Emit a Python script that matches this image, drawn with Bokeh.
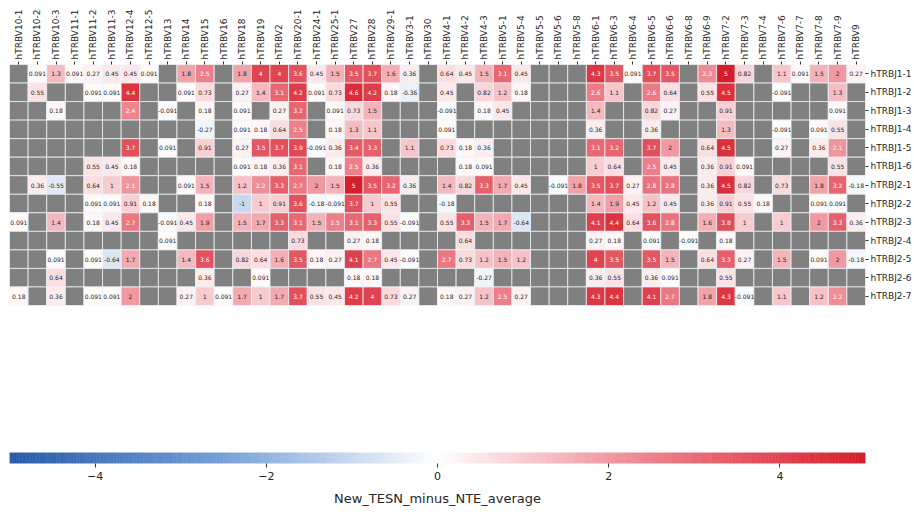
import math
from bokeh.plotting import figure
from bokeh.models import ColumnDataSource, LinearColorMapper, FactorRange, Range1d, FixedTicker
from bokeh.transform import transform
from bokeh.layouts import column
from bokeh.embed import file_html
from bokeh.resources import INLINE
from bokeh.core.properties import value

N = float("nan")

v_genes = ["hTRBV10-1", "hTRBV10-2", "hTRBV10-3", "hTRBV11-1", "hTRBV11-2", "hTRBV11-3",
           "hTRBV12-4", "hTRBV12-5", "hTRBV13", "hTRBV14", "hTRBV15", "hTRBV16", "hTRBV18",
           "hTRBV19", "hTRBV2", "hTRBV20-1", "hTRBV24-1", "hTRBV25-1", "hTRBV27", "hTRBV28",
           "hTRBV29-1", "hTRBV3-1", "hTRBV30", "hTRBV4-1", "hTRBV4-2", "hTRBV4-3", "hTRBV5-1",
           "hTRBV5-4", "hTRBV5-5", "hTRBV5-6", "hTRBV5-8", "hTRBV6-1", "hTRBV6-3", "hTRBV6-4",
           "hTRBV6-5", "hTRBV6-6", "hTRBV6-8", "hTRBV6-9", "hTRBV7-2", "hTRBV7-3", "hTRBV7-4",
           "hTRBV7-6", "hTRBV7-7", "hTRBV7-8", "hTRBV7-9", "hTRBV9"]

j_genes = ["hTRBJ1-1", "hTRBJ1-2", "hTRBJ1-3", "hTRBJ1-4", "hTRBJ1-5", "hTRBJ1-6",
           "hTRBJ2-1", "hTRBJ2-2", "hTRBJ2-3", "hTRBJ2-4", "hTRBJ2-5", "hTRBJ2-6", "hTRBJ2-7"]

r_J1_1 = [N, 0.091, 1.3, 0.091, 0.27, 0.45, 0.45, 0.091, N, 1.8,
          2.5, N, 1.8, 4, 4, 3.6, 0.45, 1.5, 3.5, 3.7,
          1.6, 0.36, N, 0.64, 0.45, 1.5, 3.1, 0.45, N, N,
          N, 4.3, 3.5, 0.091, 3.7, 3.5, N, 2.3, 5, 0.82,
          N, 1.1, 0.091, 1.5, 2, 0.27]
r_J1_2 = [N, 0.55, N, N, 0.091, 0.091, 4.4, N, N, 0.091,
          0.73, N, 0.27, 1.4, 3.1, 4.2, 0.091, 0.73, 4.6, 4.2,
          0.18, -0.36, N, 0.45, N, 0.82, 1.2, 0.18, N, N,
          N, 2.6, 1.1, N, 2.6, 0.64, N, 0.55, 4.5, N,
          N, -0.091, N, N, 1.3, N]
r_J1_3 = [N, N, 0.18, N, N, N, 2.4, N, -0.091, N,
          0.18, N, 0.091, N, 0.27, 3.2, N, 0.091, 0.73, 1.5,
          N, N, N, -0.091, N, 0.18, 0.45, N, N, N,
          N, 1.4, N, N, 0.82, 0.27, N, N, 0.91, N,
          N, N, N, N, 0.091, N]
r_J1_4 = [N, N, N, N, N, N, N, N, N, N,
          -0.27, N, 0.091, 0.18, 0.64, 2.5, N, 0.18, 1.3, 1.1,
          N, N, N, 0.091, N, N, N, N, N, N,
          N, 0.36, N, N, 0.36, N, N, N, 1.3, N,
          N, -0.091, N, 0.091, 0.55, N]
r_J1_5 = [N, N, N, N, N, N, 3.7, N, 0.091, N,
          0.91, N, 0.27, 3.5, 3.7, 3.9, -0.091, 0.36, 3.4, 3.3,
          N, 1.1, N, 0.73, 0.18, 0.36, N, N, N, N,
          N, 3.1, 3.2, N, 3.7, 2, N, 0.64, 4.5, N,
          N, 0.27, N, 0.36, 2.1, N]
r_J1_6 = [N, N, N, N, 0.55, 0.45, 0.18, N, N, N,
          N, N, 0.091, 0.18, 0.36, 3.1, N, 0.18, 2.5, 0.36,
          N, N, N, N, 0.18, 0.091, N, N, N, N,
          N, 1, 0.64, N, 2.5, 0.45, N, 0.36, 0.91, 0.091,
          N, N, N, N, 0.55, N]
r_J2_1 = [N, 0.36, -0.55, N, 0.64, 1, 2.1, N, N, 0.091,
          1.5, N, 1.2, 2.2, 3.3, 2.7, 2, 1.5, 5, 3.5,
          3.2, 0.36, N, 1.4, 0.82, 3.3, 1.7, 0.45, N, -0.091,
          1.8, 3.5, 3.7, 0.27, 2.8, 2.8, N, 0.36, 4.5, 0.82,
          N, 0.73, N, 1.8, 3.2, -0.18]
r_J2_2 = [N, N, N, N, 0.091, 0.091, 0.91, 0.18, N, N,
          0.18, N, -1, 1, 0.91, 3.6, -0.18, -0.091, 3.7, 1,
          0.55, N, N, -0.18, N, N, N, N, N, N,
          N, 1.4, 1.9, 0.45, 1.2, 0.45, N, 0.36, 0.91, 0.55,
          0.18, N, N, 0.091, 0.091, N]
r_J2_3 = [0.091, N, 1.4, N, 0.18, 0.45, 2.7, N, -0.091, 0.45,
          1.9, N, 1.5, 1.7, 3.3, 3.1, 1.5, 2.5, 3.1, 3.3,
          0.55, -0.091, N, 0.55, 3.3, 1.5, 1.7, -0.64, N, N,
          N, 4.1, 4.4, 0.64, 3.6, 2.8, N, 1.6, 3.8, 1,
          N, 1, N, 2, 3.3, 0.36]
r_J2_4 = [N, N, N, N, N, N, N, N, 0.091, N,
          N, N, N, N, N, 0.73, N, N, 0.27, 0.18,
          N, N, N, N, 0.64, N, N, N, N, N,
          N, 0.27, 0.18, N, 0.091, N, -0.091, N, 0.18, N,
          N, N, N, N, N, N]
r_J2_5 = [N, N, 0.091, N, 0.091, -0.64, 1.7, N, N, 1.4,
          3.6, N, 0.82, 0.64, 1.6, 3.5, 0.18, 0.27, 4.1, 2.7,
          0.45, -0.091, N, 2.7, 0.73, 1.2, 1.5, 1.2, N, N,
          N, 4, 3.5, N, 3.5, 1.5, N, 0.64, 3.3, 0.27,
          N, 1.5, N, 0.091, 2, -0.18]
r_J2_6 = [N, N, 0.64, N, N, N, N, N, N, N,
          0.36, N, N, 0.091, N, N, N, N, 0.18, 0.18,
          N, N, N, N, N, -0.27, N, N, N, N,
          N, 0.36, 0.55, N, 0.36, 0.091, N, N, 0.55, N,
          N, N, N, N, N, N]
r_J2_7 = [0.18, N, 0.36, N, 0.091, 0.091, 2, N, N, 0.27,
          1, 0.091, 1.7, 1, 1.7, 3.7, 0.55, 0.45, 4.2, 4,
          0.73, 0.27, N, 0.18, 0.27, 1.2, 2.5, 0.27, N, N,
          N, 4.3, 4.4, N, 4.1, 2.7, N, 1.8, 4.3, -0.091,
          N, 1.1, N, 1.2, 2.2, N]

matrix = [r_J1_1, r_J1_2, r_J1_3, r_J1_4, r_J1_5, r_J1_6,
          r_J2_1, r_J2_2, r_J2_3, r_J2_4, r_J2_5, r_J2_6, r_J2_7]

cbar_ticks = [-4, -2, 0, 2, 4]
cbar_title = "New_TESN_minus_NTE_average"
VMIN, VMAX = -5.0, 5.0

# ---- colormap (blue - white - red) ----
anchors = [(-5.0, (36, 90, 168)), (-2.5, (118, 160, 214)), (0.0, (255, 255, 255)),
           (2.5, (236, 128, 138)), (5.0, (214, 28, 42))]


def color_at(v):
    v = max(VMIN, min(VMAX, v))
    for (a, ca), (b, cb_) in zip(anchors[:-1], anchors[1:]):
        if a <= v <= b:
            t = (v - a) / (b - a)
            return tuple(int(round(ca[i] + (cb_[i] - ca[i]) * t)) for i in range(3))
    return anchors[-1][1]


n_col = 256
palette = []
for i in range(n_col):
    v = VMIN + (VMAX - VMIN) * (i + 0.5) / n_col
    palette.append("#%02x%02x%02x" % color_at(v))

mapper = LinearColorMapper(palette=palette, low=VMIN, high=VMAX, nan_color="#808080")


def rel_lum(rgb):
    out = []
    for c in rgb:
        c = c / 255.0
        out.append(c / 12.92 if c <= 0.03928 else ((c + 0.055) / 1.055) ** 2.4)
    return 0.2126 * out[0] + 0.7152 * out[1] + 0.0722 * out[2]


xs, ys, vals, labels, tcols = [], [], [], [], []
for j, row in zip(j_genes, matrix):
    for vg, v in zip(v_genes, row):
        xs.append(vg)
        ys.append(j)
        vals.append(v)
        if isinstance(v, float) and math.isnan(v):
            labels.append("")
            tcols.append("#262626")
        else:
            labels.append(format(v, ".2g"))
            tcols.append("#262626" if rel_lum(color_at(v)) > 0.43 else "#ffffff")

src = ColumnDataSource(dict(v=xs, j=ys, val=vals, label=labels, tc=tcols))

FONT = "DejaVu Sans"

p = figure(width=914, height=320,
           x_range=FactorRange(*v_genes), y_range=FactorRange(*reversed(j_genes)),
           x_axis_location="above", y_axis_location="right",
           min_border_left=9, min_border_right=49, min_border_top=64, min_border_bottom=15,
           toolbar_location=None, output_backend="svg", tools="")
p.outline_line_color = None
p.grid.grid_line_color = None
p.background_fill_color = "white"

p.rect(x="v", y="j", width=1, height=1, source=src,
       fill_color=transform("val", mapper), line_color="#eef2f6", line_width=0.8)
p.text(x="v", y="j", text="label", source=src, text_color="tc",
       text_font=value(FONT), text_font_size="6px",
       text_align="center", text_baseline="middle")

for ax in (p.xaxis[0], p.yaxis[0]):
    ax.axis_line_color = None
    ax.major_tick_line_color = "#333333"
    ax.major_tick_out = 3
    ax.major_tick_in = 0
    ax.minor_tick_line_color = None
    ax.major_label_standoff = 2
    ax.major_label_text_font = FONT
    ax.major_label_text_font_size = "9px"
    ax.major_label_text_color = "#262626"
p.xaxis.major_label_orientation = "vertical"

# ---- colorbar ----
edges = [VMIN + (VMAX - VMIN) * i / n_col for i in range(n_col + 1)]
cb_src = ColumnDataSource(dict(left=edges[:-1], right=edges[1:], c=palette))

cb = figure(width=914, height=195, x_range=Range1d(VMIN, VMAX), y_range=Range1d(0, 1),
            min_border_left=9, min_border_right=49, min_border_top=132, min_border_bottom=52,
            toolbar_location=None, output_backend="svg", tools="")
cb.quad(left="left", right="right", bottom=0, top=1, source=cb_src,
        fill_color="c", line_color="c", line_width=0.5)
cb.outline_line_color = None
cb.grid.grid_line_color = None
cb.yaxis.visible = False
cb.xaxis.ticker = FixedTicker(ticks=cbar_ticks)
cb.xaxis.major_label_overrides = {t: ("\u2212" + str(abs(t)) if t < 0 else str(t)) for t in cbar_ticks}
cb.xaxis.axis_line_color = None
cb.xaxis.major_tick_line_color = "#333333"
cb.xaxis.major_tick_out = 4
cb.xaxis.major_tick_in = 0
cb.xaxis.minor_tick_line_color = None
cb.xaxis.major_label_standoff = 4
cb.xaxis.major_label_text_font = FONT
cb.xaxis.major_label_text_font_size = "11px"
cb.xaxis.major_label_text_color = "#262626"
cb.xaxis.axis_label = cbar_title
cb.xaxis.axis_label_text_font = FONT
cb.xaxis.axis_label_text_font_size = "13px"
cb.xaxis.axis_label_text_font_style = "normal"
cb.xaxis.axis_label_text_color = "#262626"
cb.xaxis.axis_label_standoff = 8

layout = column(p, cb, spacing=0)
open("out.html", "w").write(file_html(layout, INLINE))
